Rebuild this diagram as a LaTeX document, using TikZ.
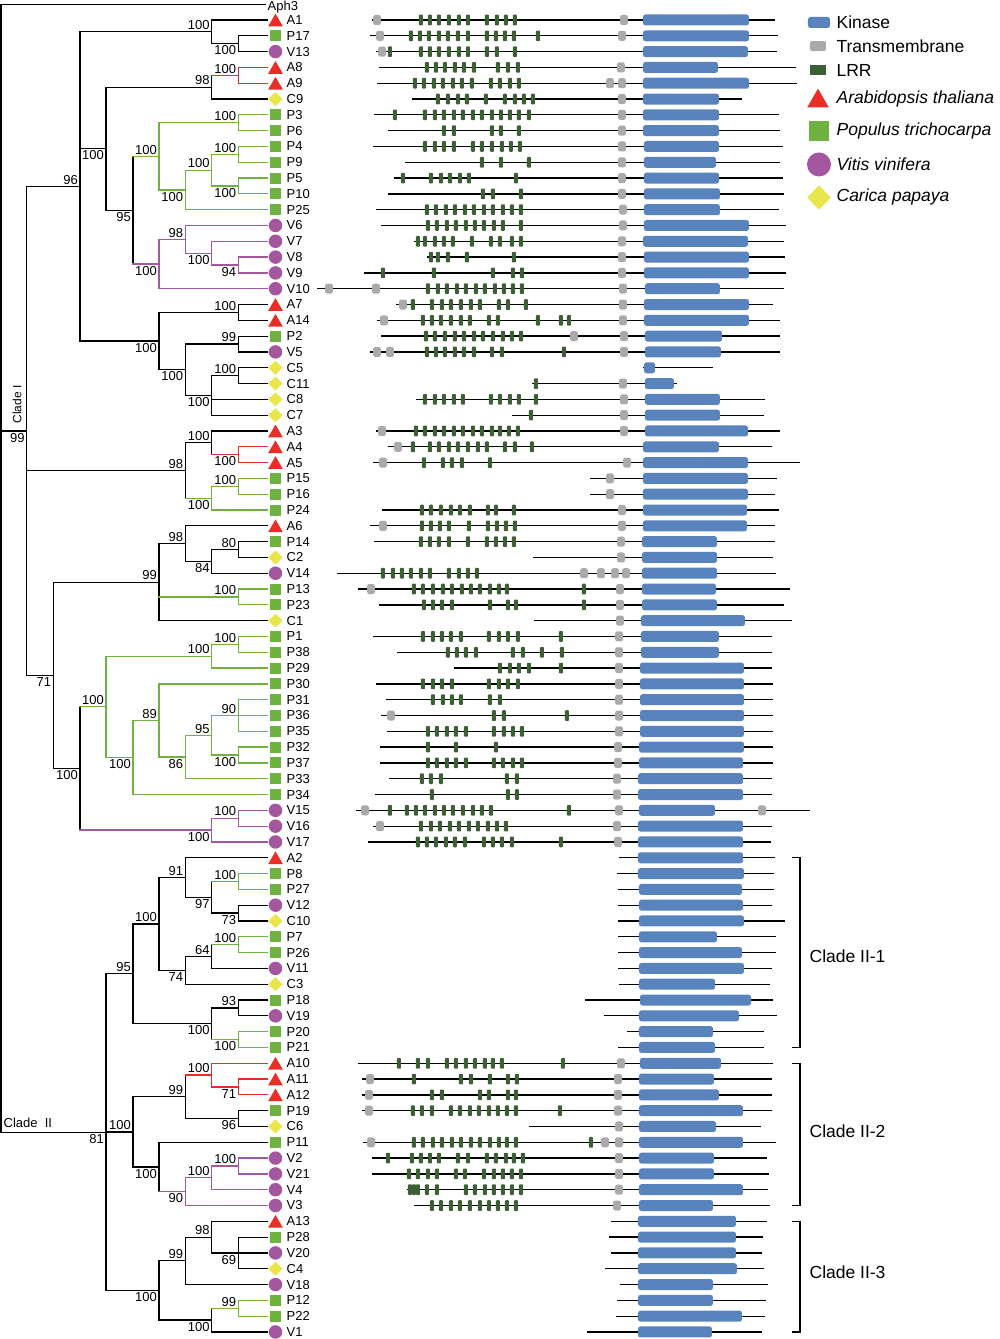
\documentclass[tikz,border=0pt]{standalone}
\usepackage{fontspec}
\setmainfont{Liberation Sans}
\usepackage{tikz}
\usetikzlibrary{shapes.geometric}
\definecolor{ath}{RGB}{232,46,39}
\definecolor{pop}{RGB}{112,178,63}
\definecolor{vit}{RGB}{164,87,158}
\definecolor{car}{RGB}{232,230,74}
\definecolor{kinc}{RGB}{88,131,188}
\definecolor{tmc}{RGB}{170,170,170}
\definecolor{lrrc}{RGB}{60,96,52}
\begin{document}
\begin{tikzpicture}[x=1pt, y=-15.807pt, line width=1.25pt, line cap=rect,
		leaflabel/.style={anchor=west, inner sep=0pt, font=\fontsize{13}{15}\selectfont},
		bsa/.style={anchor=south east, inner sep=1.5pt, font=\fontsize{13}{15}\selectfont},
		bsb/.style={anchor=north east, inner sep=1.5pt, font=\fontsize{13}{15}\selectfont},
		athsym/.style={regular polygon, regular polygon sides=3, fill=ath, minimum size=17pt, inner sep=0pt, yshift=-2.1pt},
		popsym/.style={rectangle, fill=pop, minimum size=11pt, inner sep=0pt},
		vitsym/.style={circle, fill=vit, minimum size=13.5pt, inner sep=0pt},
		carsym/.style={diamond, fill=car, minimum width=15pt, minimum height=14.5pt, inner sep=0pt},
		kin/.style={fill=kinc, rounded corners=2.5pt},
		tmbox/.style={fill=tmc, rounded corners=2pt},
		lrrbox/.style={fill=lrrc, rounded corners=0.8pt},
		backbone/.style={line width=1.3pt, line cap=butt},
		legend/.style={anchor=west, inner sep=0pt, font=\fontsize{17.5}{20}\selectfont}]
			\useasboundingbox (0,-0.2653) rectangle (1000,84.4455);

			\foreach \n/\x/\r in {p17v13/238.3/2.5, a1p17/211.7/1.75, a8a9/238.3/4.5, a8c9/211.7/5.25,
				p3p6/238.3/7.5, p4p9/238.3/9.5, p5p10/238.3/11.5, p4p10/211.7/10.5, p4p25/185.3/11.75, p3p25/159/9.625,
				v8v9/238.3/16.5, v7v9/211.7/15.75, v6v9/185.3/14.875, v6v10/159/16.4375, p3v10/133/13.031, a8v10/106/9.141,
				a7a14/238.3/19.5, p2v5/238.3/21.5, c5c11/238.3/23.5, c5c7/211.7/24.75, p2c7/185.3/23.125, a7c7/159/21.3125,
				a1c7/80/11.531, a4a5/238.3/28.5, a3a5/211.7/27.75, p15p16/238.3/30.5, p15p24/211.7/31.25, a3p24/185.3/29.5,
				p14c2/238.3/34.5, p14v14/211.7/35.25, a6v14/185.3/34.125, p13p23/238.3/37.5, a6c1/159/36.5625,
				p1p38/238.3/40.5, p1p29/211.7/41.25, p31p35/238.3/45, p32p37/238.3/47.5, p31p37/211.7/46.25,
				p31p33/185.3/47.625, p30p33/159/45.3125, p30p34/133/47.656, p1p34/106/44.453,
				v15v16/238.3/51.5, v15v17/211.7/52.25, p1v17/80/48.352, a6v17/53.3/42.457, cladeI/26.7/26.994,
				p8p27/238.3/55.5, v12c10/238.3/57.5, p8c10/211.7/56.5, a2c10/185.3/55.25, p7p26/238.3/59.5,
				p7v11/211.7/60.25, p7c3/185.3/61.125, a2c3/159/58.1875, p18v19/238.3/63.5, p20p21/238.3/65.5,
				p18p21/211.7/64.5, a2p21/133/61.344, a11a12/238.3/68.5, a10a12/211.7/67.75, p19c6/238.3/70.5,
				a10c6/185.3/69.125, v2v21/238.3/73.5, v2v4/211.7/74.25, v2v3/185.3/75.125, p11v3/159/73.5625,
				a10v3/133/71.344, p28c4/238.3/79, a13c4/211.7/78, a13v18/185.3/79.5, p12p22/238.3/82.5,
				p12v1/211.7/83.25, a13v1/159/81.375, cladeII/106/71.36, root/1/35.68}
				\coordinate (\n) at (\x,\r);

			\coordinate (Aph3) at (265,0);
			\node[leaflabel, anchor=base west] (Aph3-t) at (267,0.4) {Aph3};
			\foreach \r/\n/\s in {1/A1/athsym, 2/P17/popsym, 3/V13/vitsym, 4/A8/athsym, 5/A9/athsym, 6/C9/carsym,
				7/P3/popsym, 8/P6/popsym, 9/P4/popsym, 10/P9/popsym, 11/P5/popsym, 12/P10/popsym, 13/P25/popsym,
				14/V6/vitsym, 15/V7/vitsym, 16/V8/vitsym, 17/V9/vitsym, 18/V10/vitsym, 19/A7/athsym, 20/A14/athsym,
				21/P2/popsym, 22/V5/vitsym, 23/C5/carsym, 24/C11/carsym, 25/C8/carsym, 26/C7/carsym, 27/A3/athsym,
				28/A4/athsym, 29/A5/athsym, 30/P15/popsym, 31/P16/popsym, 32/P24/popsym, 33/A6/athsym, 34/P14/popsym,
				35/C2/carsym, 36/V14/vitsym, 37/P13/popsym, 38/P23/popsym, 39/C1/carsym, 40/P1/popsym, 41/P38/popsym,
				42/P29/popsym, 43/P30/popsym, 44/P31/popsym, 45/P36/popsym, 46/P35/popsym, 47/P32/popsym, 48/P37/popsym,
				49/P33/popsym, 50/P34/popsym, 51/V15/vitsym, 52/V16/vitsym, 53/V17/vitsym, 54/A2/athsym, 55/P8/popsym,
				56/P27/popsym, 57/V12/vitsym, 58/C10/carsym, 59/P7/popsym, 60/P26/popsym, 61/V11/vitsym, 62/C3/carsym,
				63/P18/popsym, 64/V19/vitsym, 65/P20/popsym, 66/P21/popsym, 67/A10/athsym, 68/A11/athsym, 69/A12/athsym,
				70/P19/popsym, 71/C6/carsym, 72/P11/popsym, 73/V2/vitsym, 74/V21/vitsym, 75/V4/vitsym, 76/V3/vitsym,
				77/A13/athsym, 78/P28/popsym, 79/V20/vitsym, 80/C4/carsym, 81/V18/vitsym, 82/P12/popsym, 83/P22/popsym,
				84/V1/vitsym} {
				\coordinate (\n) at (267,\r);
				\node[\s] (\n-s) at (275.5,\r) {};
				\node[leaflabel] (\n-t) at (286,\r) {\n};
			}

			\foreach \n/\a/\b/\col in {p17v13/P17/V13/black, a1p17/A1/p17v13/black, a8a9/A8/A9/ath, a8c9/a8a9/C9/black,
				p3p6/P3/P6/pop, p4p9/P4/P9/pop, p5p10/P5/P10/pop, p4p10/p4p9/p5p10/pop, p4p25/p4p10/P25/pop,
				p3p25/p3p6/p4p25/pop, v8v9/V8/V9/vit, v7v9/V7/v8v9/vit, v6v9/V6/v7v9/vit, v6v10/v6v9/V10/vit,
				p3v10/p3p25/v6v10/black, a8v10/a8c9/p3v10/black, a7a14/A7/A14/black, p2v5/P2/V5/black,
				c5c11/C5/C11/black, c5c7/c5c11/C7/black, p2c7/p2v5/c5c7/black, a7c7/a7a14/p2c7/black,
				a1c7/a1p17/a7c7/black, a4a5/A4/A5/ath, a3a5/A3/a4a5/black, p15p16/P15/P16/pop, p15p24/p15p16/P24/pop,
				a3p24/a3a5/p15p24/black, p14c2/P14/C2/black, p14v14/p14c2/V14/black, a6v14/A6/p14v14/black,
				p13p23/P13/P23/pop, a6c1/a6v14/C1/black, p1p38/P1/P38/pop, p1p29/p1p38/P29/pop, p31p35/P31/P35/pop,
				p32p37/P32/P37/pop, p31p37/p31p35/p32p37/pop, p31p33/p31p37/P33/pop, p30p33/P30/p31p33/pop,
				p30p34/p30p33/P34/pop, p1p34/p1p29/p30p34/pop, v15v16/V15/V16/vit, v15v17/v15v16/V17/vit,
				p1v17/p1p34/v15v17/black, a6v17/a6c1/p1v17/black, cladeI/a1c7/a6v17/black,
				p8p27/P8/P27/pop, v12c10/V12/C10/black, p8c10/p8p27/v12c10/black, a2c10/A2/p8c10/black,
				p7p26/P7/P26/pop, p7v11/p7p26/V11/black, p7c3/p7v11/C3/black, a2c3/a2c10/p7c3/black,
				p18v19/P18/V19/black, p20p21/P20/P21/pop, p18p21/p18v19/p20p21/black, a2p21/a2c3/p18p21/black,
				a11a12/A11/A12/ath, a10a12/A10/a11a12/ath, p19c6/P19/C6/black, a10c6/a10a12/p19c6/black,
				v2v21/V2/V21/vit, v2v4/v2v21/V4/vit, v2v3/v2v4/V3/vit, p11v3/P11/v2v3/black, a10v3/a10c6/p11v3/black,
				p28c4/P28/C4/black, a13c4/A13/p28c4/black, a13v18/a13c4/V18/black, p12p22/P12/P22/pop,
				p12v1/p12p22/V1/black, a13v1/a13v18/p12v1/black, cladeII/a2p21/a13v1/black, root/Aph3/cladeII/black}
				\draw[\col] (\n |- \a) -- (\n |- \b);

			\foreach \p/\c/\col in {a1p17/A1/black, a1p17/p17v13/black, p17v13/P17/black, p17v13/V13/black,
				a8a9/A8/ath, a8a9/A9/ath, a8c9/a8a9/ath, a8c9/C9/black,
				p3p6/P3/pop, p3p6/P6/pop, p4p9/P4/pop, p4p9/P9/pop, p5p10/P5/pop, p5p10/P10/pop, p4p10/p4p9/pop,
				p4p10/p5p10/pop, p4p25/p4p10/pop, p4p25/P25/pop, p3p25/p3p6/pop, p3p25/p4p25/pop,
				v8v9/V8/vit, v8v9/V9/vit, v7v9/V7/vit, v7v9/v8v9/vit, v6v9/V6/vit, v6v9/v7v9/vit, v6v10/v6v9/vit,
				v6v10/V10/vit, p3v10/p3p25/pop, p3v10/v6v10/vit, a8v10/a8c9/black, a8v10/p3v10/black,
				a7a14/A7/black, a7a14/A14/black, p2v5/P2/black, p2v5/V5/black, c5c11/C5/black, c5c11/C11/black,
				c5c7/c5c11/black, c5c7/C8/black, c5c7/C7/black, p2c7/p2v5/black, p2c7/c5c7/black, a7c7/a7a14/black,
				a7c7/p2c7/black, a1c7/a1p17/black, a1c7/a8v10/black, a1c7/a7c7/black,
				a4a5/A4/ath, a4a5/A5/ath, a3a5/A3/black, a3a5/a4a5/ath, p15p16/P15/pop, p15p16/P16/pop,
				p15p24/p15p16/pop, p15p24/P24/pop, a3p24/a3a5/black, a3p24/p15p24/pop,
				p14c2/P14/black, p14c2/C2/black, p14v14/p14c2/black, p14v14/V14/black, a6v14/A6/black,
				a6v14/p14v14/black, p13p23/P13/pop, p13p23/P23/pop, a6c1/a6v14/black, a6c1/p13p23/pop, a6c1/C1/black,
				p1p38/P1/pop, p1p38/P38/pop, p1p29/p1p38/pop, p1p29/P29/pop, p31p35/P31/pop, p31p35/P36/pop,
				p31p35/P35/pop, p32p37/P32/pop, p32p37/P37/pop, p31p37/p31p35/pop, p31p37/p32p37/pop,
				p31p33/p31p37/pop, p31p33/P33/pop, p30p33/P30/pop, p30p33/p31p33/pop, p30p34/p30p33/pop,
				p30p34/P34/pop, p1p34/p1p29/pop, p1p34/p30p34/pop,
				v15v16/V15/vit, v15v16/V16/vit, v15v17/v15v16/vit, v15v17/V17/vit, p1v17/p1p34/pop, p1v17/v15v17/vit,
				a6v17/a6c1/black, a6v17/p1v17/black, cladeI/a1c7/black, cladeI/a3p24/black, cladeI/a6v17/black,
				p8p27/P8/pop, p8p27/P27/pop, v12c10/V12/black, v12c10/C10/black, p8c10/p8p27/pop, p8c10/v12c10/black,
				a2c10/A2/black, a2c10/p8c10/black, p7p26/P7/pop, p7p26/P26/pop, p7v11/p7p26/pop, p7v11/V11/black,
				p7c3/p7v11/black, p7c3/C3/black, a2c3/a2c10/black, a2c3/p7c3/black,
				p18v19/P18/black, p18v19/V19/black, p20p21/P20/pop, p20p21/P21/pop, p18p21/p18v19/black,
				p18p21/p20p21/pop, a2p21/a2c3/black, a2p21/p18p21/black,
				a11a12/A11/ath, a11a12/A12/ath, a10a12/A10/ath, a10a12/a11a12/ath, p19c6/P19/black, p19c6/C6/black,
				a10c6/a10a12/ath, a10c6/p19c6/black, v2v21/V2/vit, v2v21/V21/vit, v2v4/v2v21/vit, v2v4/V4/vit,
				v2v3/v2v4/vit, v2v3/V3/vit, p11v3/P11/black, p11v3/v2v3/vit, a10v3/a10c6/black, a10v3/p11v3/black,
				p28c4/P28/black, p28c4/V20/black, p28c4/C4/black, a13c4/A13/black, a13c4/p28c4/black,
				a13v18/a13c4/black, a13v18/V18/black, p12p22/P12/pop, p12p22/P22/pop, p12v1/p12p22/pop,
				p12v1/V1/black, a13v1/a13v18/black, a13v1/p12v1/black,
				cladeII/a2p21/black, cladeII/a10v3/black, cladeII/a13v1/black,
				root/Aph3/black, root/cladeI/black, root/cladeII/black}
				\draw[\col] (\p |- \c) -- (\c);

			\foreach \n/\v/\pos in {a1p17/100/bsa, p17v13/100/bsb, a8a9/100/bsa, a8c9/98/bsa, p3p6/100/bsa,
				p4p9/100/bsa, p5p10/100/bsb, p4p10/100/bsa, p4p25/100/bsb, p3p25/100/bsa, v8v9/94/bsb, v7v9/100/bsb,
				v6v9/98/bsa, v6v10/100/bsb, p3v10/95/bsb, a8v10/100/bsb, a7a14/100/bsa, p2v5/99/bsa, c5c11/100/bsa,
				c5c7/100/bsb, p2c7/100/bsb, a7c7/100/bsb, a1c7/96/bsa, a4a5/100/bsb, a3a5/100/bsa, p15p16/100/bsa,
				p15p24/100/bsb, a3p24/98/bsa, p14c2/80/bsa, p14v14/84/bsb, a6v14/98/bsa, p13p23/100/bsa, a6c1/99/bsa,
				p1p38/100/bsa, p1p29/100/bsa, p31p35/90/bsa, p32p37/100/bsb, p31p37/95/bsa, p31p33/86/bsb,
				p30p33/89/bsa, p30p34/100/bsb, p1p34/100/bsa, v15v16/100/bsa, v15v17/100/bsb, p1v17/100/bsb,
				a6v17/71/bsb, cladeI/99/bsb, p8p27/100/bsa, v12c10/73/bsb, p8c10/97/bsb, a2c10/91/bsa,
				p7p26/100/bsa, p7v11/64/bsa, p7c3/74/bsb, a2c3/100/bsa, p18v19/93/bsa, p20p21/100/bsb,
				p18p21/100/bsb, a2p21/95/bsa, a11a12/71/bsb, a10a12/100/bsa, p19c6/96/bsb, a10c6/99/bsa,
				v2v21/100/bsa, v2v4/100/bsa, v2v3/90/bsb, p11v3/100/bsb, a10v3/100/bsa, p28c4/69/bsb, a13c4/98/bsa,
				a13v18/99/bsa, p12p22/99/bsa, p12v1/100/bsb, a13v1/100/bsb, cladeII/81/bsb}
				\node[\pos] (\n-bs) at (\n) {\v};

			\node[rotate=90, anchor=west, inner sep=0pt, font=\fontsize{12}{14}\selectfont] (cladeI-t) at (17,26.56) {Clade I};
			\node[anchor=south west, inner sep=0pt, font=\fontsize{13}{15}\selectfont] (cladeII-t) at (3,71.1) {Clade~ II};

			\foreach \r/\a/\b/\ka/\kb in {1/372/775/643/749, 2/370/778/643/749, 3/376/777/643/748, 4/379/796/643/718,
				5/377/797/643/749, 6/412/742/643/719, 7/374/779/643/719, 8/388/780/643/719, 9/373/783/644/719,
				10/405/780/644/716, 11/394/783/644/719, 12/388/784/644/720, 13/376/779/644/720, 14/381/786/644/749,
				15/414/784/643/748, 16/427/785/644/749, 17/364/786/644/749, 18/317/784/645/720, 19/396/773/644/749,
				20/377/780/644/749, 21/381/780/645/722, 22/370/780/645/721, 23/643/713/644/655, 24/532/677/645/674,
				25/416/765/645/720, 26/512/764/645/720, 27/376/780/645/748, 28/388/772/643/719, 29/373/800/643/748,
				30/590/777/643/748, 31/590/775/643/748, 32/382/779/643/747, 33/370/775/643/747, 34/374/775/642/717,
				35/533/773/642/717, 36/337/776/642/717, 37/358/790/642/716, 38/379/784/642/717, 39/534/792/641/745,
				40/373/772/641/719, 41/397/772/641/719, 42/454/772/640/744, 43/376/773/640/744, 44/386/773/640/744,
				45/381/773/640/744, 46/387/773/640/744, 47/380/773/639/744, 48/380/773/639/743, 49/389/772/638/743,
				50/375/772/638/743, 51/356/810/639/715, 52/373/772/638/743, 53/368/771/638/743, 54/619/775/638/743,
				55/617/774/638/744, 56/618/774/639/742, 57/618/772/639/743, 58/618/785/639/744, 59/618/776/639/717,
				60/618/776/639/742, 61/618/772/639/744, 62/619/770/639/715, 63/585/773/640/751, 64/604/777/639/739,
				65/627/764/639/713, 66/618/764/639/715, 67/358/773/640/721, 68/362/772/639/714, 69/362/772/639/719,
				70/362/772/639/743, 71/529/761/639/716, 72/363/776/639/743, 73/372/767/639/714, 74/372/769/639/714,
				75/407/768/639/743, 76/414/770/639/713, 77/611/767/638/736, 78/609/763/638/736, 79/611/762/638/736,
				80/605/764/638/737, 81/620/768/638/713, 82/617/766/638/713, 83/616/765/638/742, 84/587/762/638/712} {
				\draw[backbone] (\a,\r) -- (\b,\r);
				\fill[kin] (\ka,\r-0.348) rectangle (\kb,\r+0.348);
			}

			\foreach \r/\xs in {1/{377,624}, 2/{380,622}, 3/{382}, 4/{621}, 5/{610,622}, 6/{622}, 7/{622}, 8/{622},
				9/{622}, 10/{622}, 11/{622}, 12/{622}, 13/{623}, 14/{623}, 15/{622}, 16/{622}, 17/{622},
				18/{329,376,623}, 19/{403,623}, 20/{384,623}, 21/{574,624}, 22/{377,390,624}, 24/{623}, 25/{624},
				26/{624}, 27/{382,624}, 28/{398}, 29/{383,627}, 30/{610}, 31/{610}, 32/{622}, 33/{383,622}, 34/{621},
				35/{621}, 36/{584,601,615,626}, 37/{371,620}, 38/{620}, 39/{620}, 40/{619}, 41/{619}, 42/{619},
				43/{619}, 44/{619}, 45/{391,619}, 46/{619}, 47/{618}, 48/{618}, 49/{617}, 50/{617}, 51/{365,619,762},
				52/{380,617}, 53/{618}, 67/{621}, 68/{370,618}, 69/{369,618}, 70/{369,618}, 71/{619},
				72/{371,605,619}, 73/{619}, 74/{619}, 75/{619}, 76/{617}}
				\foreach \t in \xs
					\fill[tmbox] (\t,\r) +(-3.8pt,-5pt) rectangle +(3.8pt,5pt);

			\foreach \r/\xs in {1/{421,430,439,449,459,468,487,497,506,515},
				2/{411,420,429,439,448,458,468,487,496,505,514,538},
				3/{390,421,430,439,449,459,468,487,497,515},
				4/{427,436,445,455,464,474,498,508,518},
				5/{415,424,434,443,453,462,472,491,500,510,519},
				6/{438,448,458,467,486,505,515,524,533},
				7/{395,425,435,444,454,463,473,482,492,501,510,519,529},
				8/{444,454,492,501,519},
				9/{425,435,444,454,473,482,492,502,511,520},
				10/{482,501,529},
				11/{403,431,441,450,460,469,516},
				12/{483,493,521},
				13/{427,436,446,455,465,474,484,493,503,512,521},
				14/{428,437,447,456,466,475,484,494,503,521},
				15/{418,425,435,444,453,472,491,500,512,521},
				16/{431,438,448,467,514},
				17/{383,434,493,513,522},
				18/{428,438,447,457,466,476,485,495,504,513,522},
				19/{413,432,442,451,461,471,480,499,508,526},
				20/{423,432,441,451,461,470,489,498,538,561,569},
				21/{426,435,445,455,464,474,483,493,503,512,521},
				22/{427,436,445,455,464,474,492,502,564},
				24/{536},
				25/{425,435,444,454,463,491,500,510,519,536},
				26/{531},
				27/{416,425,435,444,454,463,473,482,492,500,509,518},
				28/{413,430,439,449,458,468,478,487,505,515,532},
				29/{424,443,452,462,490},
				32/{422,431,441,451,460,470,488,496,514},
				33/{422,431,440,449,469,488,497,506,515},
				34/{421,430,439,449,468,487,496,505,514},
				36/{383,393,402,411,421,430,449,459,468,477},
				37/{414,423,433,443,452,462,471,480,490,499,507,584},
				38/{424,433,442,452,490,508,516,584},
				40/{423,433,442,451,461,489,499,508,518,561},
				41/{448,457,466,476,513,523,542,562},
				42/{500,510,519,529,561},
				43/{423,433,442,452,489,499,508,518},
				44/{433,443,452,461,490,500},
				45/{494,504,567},
				46/{428,437,447,456,466,494,504,513,522},
				47/{428,456,496},
				48/{428,437,447,456,466,494,503,513,522},
				49/{422,431,441,507,517},
				50/{432,508,517},
				51/{390,407,416,425,435,444,453,463,473,482,491,569},
				52/{421,431,440,450,459,469,478,488,497,506},
				53/{418,427,436,446,455,465,484,493,502,512,561},
				67/{399,418,428,447,456,466,475,485,493,502,563},
				68/{414,461,471,490,508,517},
				69/{432,442,480,489,508,516},
				70/{413,422,432,451,460,470,479,489,498,507,516,560},
				72/{414,423,433,442,452,461,471,480,490,499,507,516,591},
				73/{388,412,421,430,439,458,468,487,496,506,514,523},
				74/{409,418,428,437,456,465,484,494,503,512,521},
				75/{410,414,418,427,437,466,475,485,494,503,512,521},
				76/{432,441,451,460,470,480,489,498,507,516}}
				\foreach \g in \xs
					\fill[lrrbox] (\g,\r) +(-2pt,-5.3pt) rectangle +(2pt,5.3pt);

			\draw[line cap=butt] (792,54) -- (800,54) -- (800,66) -- (792,66);
			\draw[line cap=butt] (792,67) -- (800,67) -- (800,76) -- (792,76);
			\draw[line cap=butt] (792,77) -- (800,77) -- (800,84) -- (792,84);
			\node[legend] (clade21) at (809,60.2) {Clade II-1};
			\node[legend] (clade22) at (809,71.3) {Clade II-2};
			\node[legend] (clade23) at (809,80.2) {Clade II-3};

			\fill[kin] (808,1.158-0.348) rectangle (830,1.158+0.348);
			\fill[tmbox] (818,2.645) +(-8pt,-5pt) rectangle +(8pt,5pt);
			\fill[lrrc] (818,4.163) +(-8pt,-5pt) rectangle +(8pt,5pt);
			\node[athsym, minimum size=25pt, yshift=-1.1pt] (leg-ath) at (818,5.934) {};
			\node[popsym, minimum size=20pt] (leg-pop) at (819,8.022) {};
			\node[vitsym, minimum size=24pt] (leg-vit) at (819,10.14) {};
			\node[carsym, minimum width=24pt, minimum height=25pt] (leg-car) at (819,12.23) {};
			\node[legend] (leg-kin-t) at (836,1.127) {Kinase};
			\node[legend] (leg-tm-t) at (836,2.645) {Transmembrane};
			\node[legend] (leg-lrr-t) at (836,4.163) {LRR};
			\node[legend] (leg-ath-t) at (836,5.99) {\itshape Arabidopsis thaliana};
			\node[legend] (leg-pop-t) at (836,8.022) {\itshape Populus trichocarpa};
			\node[legend] (leg-vit-t) at (836,10.11) {\itshape Vitis vinifera};
			\node[legend] (leg-car-t) at (836,12.197) {\itshape Carica papaya};
		\end{tikzpicture}
\end{document}
